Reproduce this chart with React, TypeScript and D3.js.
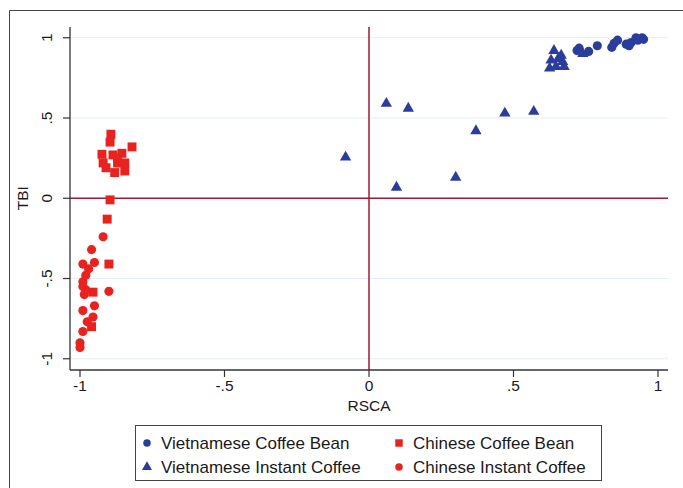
import React from "react";
import * as d3 from "d3";

const vnBean: [number, number][] = [
  [0.727, 0.935], [0.76, 0.915], [0.79, 0.95], [0.84, 0.94], [0.848, 0.966],
  [0.86, 0.985], [0.9, 0.95], [0.907, 0.97], [0.924, 1.0], [0.945, 1.0],
  [0.93, 0.985], [0.89, 0.96], [0.72, 0.92], [0.95, 0.99],
];
const vnInstant: [number, number][] = [
  [-0.081, 0.255], [0.06, 0.59], [0.136, 0.56], [0.095, 0.068], [0.3, 0.13],
  [0.37, 0.42], [0.47, 0.53], [0.57, 0.54], [0.64, 0.92], [0.665, 0.89],
  [0.63, 0.86], [0.67, 0.85], [0.625, 0.81], [0.647, 0.82], [0.675, 0.82],
  [0.74, 0.9], [0.655, 0.87],
];
const cnBean: [number, number][] = [
  [-0.893, 0.399], [-0.896, 0.35], [-0.82, 0.32], [-0.924, 0.274], [-0.92, 0.22],
  [-0.886, 0.27], [-0.855, 0.28], [-0.87, 0.22], [-0.845, 0.22], [-0.88, 0.16],
  [-0.845, 0.17], [-0.91, 0.19], [-0.87, 0.25], [-0.896, -0.01], [-0.906, -0.13],
  [-0.9, -0.41], [-0.955, -0.585], [-0.96, -0.8],
];
const cnInstant: [number, number][] = [
  [-0.92, -0.24], [-0.96, -0.32], [-0.99, -0.41], [-0.95, -0.4], [-0.97, -0.44],
  [-0.98, -0.48], [-0.99, -0.52], [-0.99, -0.55], [-0.98, -0.57], [-0.9, -0.58],
  [-0.95, -0.67], [-0.99, -0.7], [-0.955, -0.74], [-0.975, -0.77], [-0.99, -0.83],
  [-1.0, -0.9], [-1.0, -0.93], [-0.985, -0.6],
];
const tickValues = [-1, -0.5, 0, 0.5, 1];
const tickLabels = ["-1", "-.5", "0", ".5", "1"];
const legendLabels = [
  "Vietnamese Coffee Bean",
  "Chinese Coffee Bean",
  "Vietnamese Instant Coffee",
  "Chinese Instant Coffee",
];

const BLUE = "#2b3d9c";
const RED = "#e8231f";
const REF = "#9a1d33";
const FONT = "'Liberation Sans', Arial, sans-serif";

export default function App() {
  const left = 70, right = 668, top = 27, bottom = 370;
  const x = d3.scaleLinear().domain([-1.0346, 1.0346]).range([left, right]);
  const y = d3.scaleLinear().domain([-1.07, 1.067]).range([bottom, top]);

  const circle = d3.symbol().type(d3.symbolCircle).size(66)()!;
  const square = d3.symbol().type(d3.symbolSquare).size(80)()!;
  const tri = d3.symbol().type(d3.symbolTriangle).size(56)()!;
  const circleL = d3.symbol().type(d3.symbolCircle).size(44)()!;
  const squareL = d3.symbol().type(d3.symbolSquare).size(56)()!;
  const triL = d3.symbol().type(d3.symbolTriangle).size(44)()!;

  const series = [
    { data: cnInstant, path: circle, color: RED },
    { data: cnBean, path: square, color: RED },
    { data: vnInstant, path: tri, color: BLUE },
    { data: vnBean, path: circle, color: BLUE },
  ];

  const legendItems = [
    { x: 147, y: 443, path: circleL, color: BLUE, label: legendLabels[0] },
    { x: 399, y: 443, path: squareL, color: RED, label: legendLabels[1] },
    { x: 147, y: 467, path: triL, color: BLUE, label: legendLabels[2] },
    { x: 399, y: 467, path: circleL, color: RED, label: legendLabels[3] },
  ];

  return (
    <svg
      width={683}
      height={488}
      style={{ position: "absolute", left: 0, top: 0, background: "#fff" }}
      fontFamily={FONT}
    >
      <rect x={0} y={0} width={683} height={488} fill="#fff" />
      {/* outer frame */}
      <path d="M9.5,488 V10.5 H683" fill="none" stroke="#444" strokeWidth={1} />

      {/* gridlines */}
      {tickValues.map((t) => (
        <line key={"g" + t} x1={left} x2={right} y1={y(t)} y2={y(t)} stroke="#e4edf1" strokeWidth={1} />
      ))}

      {/* reference lines */}
      <line x1={left} x2={right} y1={y(0)} y2={y(0)} stroke={REF} strokeWidth={1.5} />
      <line x1={x(0)} x2={x(0)} y1={top} y2={bottom} stroke={REF} strokeWidth={1.5} />

      {/* axes */}
      <line x1={left} x2={left} y1={top} y2={bottom} stroke="#333" strokeWidth={1.3} />
      <line x1={left} x2={right} y1={bottom} y2={bottom} stroke="#333" strokeWidth={1.3} />
      {tickValues.map((t, i) => (
        <g key={"yt" + t}>
          <line x1={left - 7} x2={left} y1={y(t)} y2={y(t)} stroke="#333" strokeWidth={1.2} />
          <text
            transform={`translate(${left - 18},${y(t)}) rotate(-90)`}
            textAnchor="middle"
            fontSize={15.5}
            fill="#1a1a1a"
          >
            {tickLabels[i]}
          </text>
        </g>
      ))}
      {tickValues.map((t, i) => (
        <g key={"xt" + t}>
          <line x1={x(t)} x2={x(t)} y1={bottom} y2={bottom + 7} stroke="#333" strokeWidth={1.2} />
          <text x={x(t)} y={bottom + 21} textAnchor="middle" fontSize={15.5} fill="#1a1a1a">
            {tickLabels[i]}
          </text>
        </g>
      ))}
      <text x={x(0)} y={411} textAnchor="middle" fontSize={15.5} fill="#1a1a1a">RSCA</text>
      <text transform={`translate(28,${y(0)}) rotate(-90)`} textAnchor="middle" fontSize={15.5} fill="#1a1a1a">
        TBI
      </text>

      {/* points */}
      {series.map((s, si) =>
        s.data.map((d, i) => (
          <path
            key={si + "-" + i}
            d={s.path}
            transform={`translate(${x(d[0])},${y(d[1])})`}
            fill={s.color}
          />
        ))
      )}

      {/* legend */}
      <rect x={135.5} y={425.5} width={466} height={55} fill="#fff" stroke="#444" strokeWidth={1} />
      {legendItems.map((l) => (
        <g key={l.label}>
          <path d={l.path} transform={`translate(${l.x},${l.y})`} fill={l.color} />
          <text x={l.x + 14} y={l.y + 5.5} fontSize={17} fill="#1a1a1a">
            {l.label}
          </text>
        </g>
      ))}
    </svg>
  );
}
